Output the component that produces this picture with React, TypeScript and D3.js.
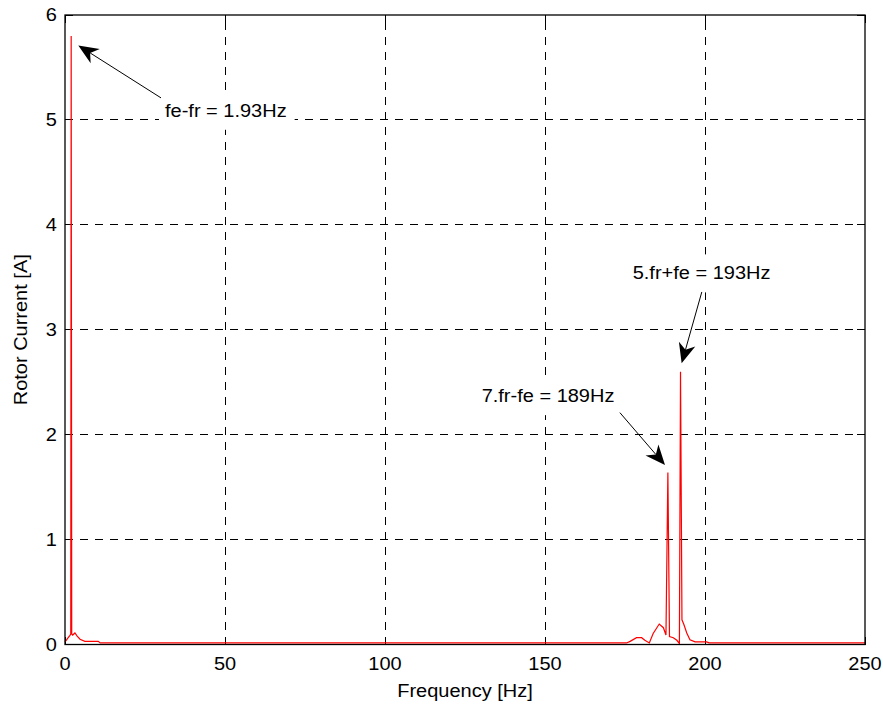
import React, { useEffect, useRef } from 'react';
import * as d3 from 'd3';

const freqHz = [0, 0.5, 1.0, 1.5, 1.8, 1.93, 2.1, 2.4, 3.1, 3.8, 4.7, 6.2, 10.4, 11.0, 175.5, 176.6, 178.6, 180.2, 181.2, 182.6, 183.8, 185.7, 187.0, 187.8, 188.4, 188.9, 190.1, 191.2, 192.0, 192.35, 192.8, 193.4, 194.3, 195.3, 196.9, 200.5, 201.3, 250];
const currentA = [0.025, 0.045, 0.065, 0.085, 0.1, 5.8, 0.1, 0.09, 0.11, 0.08, 0.05, 0.03, 0.03, 0.015, 0.015, 0.03, 0.065, 0.065, 0.04, 0.015, 0.105, 0.195, 0.16, 0.09, 1.64, 0.075, 0.065, 0.04, 0.01, 2.6, 0.235, 0.19, 0.11, 0.045, 0.025, 0.025, 0.015, 0.015];

const xTicks = [0, 50, 100, 150, 200, 250];
const yTicks = [0, 1, 2, 3, 4, 5, 6];
const xLabel = 'Frequency [Hz]';
const yLabel = 'Rotor Current [A]';

const annLabels = ['fe-fr = 1.93Hz', '7.fr-fe = 189Hz', '5.fr+fe = 193Hz'];
const annTextAt = [[31.25, 5.03], [130.2, 2.31], [177.4, 3.48]];
const annTail = [[30, 5.21], [173.4, 2.21], [199.0, 3.36]];
const annTip = [[4.16, 5.71], [187.5, 1.71], [192.7, 2.68]];

const W = 883, H = 705;
const L = 65, R = 865, T = 15, B = 644.5;
const FONT = '"Liberation Sans", Arial, Helvetica, sans-serif';
const SY = 0.88;

export default function App() {
  const ref = useRef<SVGSVGElement>(null);
  useEffect(() => {
    const svg = d3.select(ref.current);
    svg.selectAll('*').remove();
    const x = d3.scaleLinear().domain([0, 250]).range([L, R]);
    const y = d3.scaleLinear().domain([0, 6]).range([B, T]);

    svg.append('rect').attr('x', 0).attr('y', 0).attr('width', W).attr('height', H).attr('fill', '#fff');

    const g = svg.append('g');
    // grid
    xTicks.filter(v => v > 0 && v < 250).forEach(v => {
      g.append('line').attr('x1', x(v)).attr('x2', x(v)).attr('y1', B).attr('y2', T)
        .attr('stroke', '#000').attr('stroke-width', 1).attr('stroke-dasharray', '8,7').attr('shape-rendering', 'crispEdges');
    });
    yTicks.filter(v => v > 0 && v < 6).forEach(v => {
      g.append('line').attr('x1', L).attr('x2', R).attr('y1', y(v)).attr('y2', y(v))
        .attr('stroke', '#000').attr('stroke-width', 1).attr('stroke-dasharray', '8,7').attr('shape-rendering', 'crispEdges');
    });

    // ticks
    xTicks.forEach(v => {
      g.append('line').attr('x1', x(v)).attr('x2', x(v)).attr('y1', B).attr('y2', B - 8).attr('stroke', '#000').attr('shape-rendering', 'crispEdges');
      g.append('line').attr('x1', x(v)).attr('x2', x(v)).attr('y1', T).attr('y2', T + 8).attr('stroke', '#000').attr('shape-rendering', 'crispEdges');
      g.append('text').attr('transform', `translate(${x(v)},670) scale(1,${SY})`)
        .attr('text-anchor', 'middle').attr('font-family', FONT).attr('font-size', 20).attr('fill', '#000').text(String(v));
    });
    yTicks.forEach(v => {
      g.append('line').attr('x1', L).attr('x2', L + 8).attr('y1', y(v)).attr('y2', y(v)).attr('stroke', '#000').attr('shape-rendering', 'crispEdges');
      g.append('line').attr('x1', R).attr('x2', R - 8).attr('y1', y(v)).attr('y2', y(v)).attr('stroke', '#000').attr('shape-rendering', 'crispEdges');
      g.append('text').attr('transform', `translate(57,${y(v) + 6.3}) scale(1,${SY})`)
        .attr('text-anchor', 'end').attr('font-family', FONT).attr('font-size', 20).attr('fill', '#000').text(String(v));
    });

    // data line
    const pts = freqHz.map((f, i) => [f, currentA[i]] as [number, number]);
    const line = d3.line<[number, number]>().x(d => x(d[0])).y(d => y(d[1]));
    g.append('path').attr('d', line(pts)).attr('fill', 'none').attr('stroke', '#ff0000').attr('stroke-width', 1.2);

    // box
    g.append('rect').attr('x', L).attr('y', T).attr('width', R - L).attr('height', B - T)
      .attr('fill', 'none').attr('stroke', '#000').attr('stroke-width', 1.3);

    // axis labels
    g.append('text').attr('transform', `translate(${(L + R) / 2},697) scale(1,${SY})`)
      .attr('text-anchor', 'middle').attr('font-family', FONT).attr('font-size', 20).attr('fill', '#000').text(xLabel);
    g.append('text').attr('transform', `translate(27,${(T + B) / 2}) rotate(-90) scale(1,${SY})`)
      .attr('text-anchor', 'middle').attr('font-family', FONT).attr('font-size', 20).attr('fill', '#000').text(yLabel);

    // annotations
    annLabels.forEach((lab, i) => {
      const tx = x(annTextAt[i][0]), ty = y(annTextAt[i][1]);
      const ag = g.append('g');
      const rect = ag.append('rect').attr('fill', '#fff');
      const t = ag.append('text').attr('transform', `translate(${tx},${ty}) scale(1,${SY})`)
        .attr('font-family', FONT).attr('font-size', 20).attr('fill', '#000').text(lab);
      const w = (t.node() as SVGTextElement).getComputedTextLength();
      rect.attr('x', tx - 6).attr('y', ty - 25).attr('width', w + 14).attr('height', 38);

      const x1 = x(annTail[i][0]), y1 = y(annTail[i][1]);
      const x2 = x(annTip[i][0]), y2 = y(annTip[i][1]);
      const dx = x1 - x2, dy = y1 - y2;
      const len = Math.hypot(dx, dy);
      const ux = dx / len, uy = dy / len;
      const px = -uy, py = ux;
      const hl = 20, hw = 8.5, nl = 14;
      g.append('line').attr('x1', x1).attr('y1', y1).attr('x2', x2 + ux * nl).attr('y2', y2 + uy * nl)
        .attr('stroke', '#000').attr('stroke-width', 1);
      const head = [
        [x2, y2],
        [x2 + ux * hl + px * hw, y2 + uy * hl + py * hw],
        [x2 + ux * nl, y2 + uy * nl],
        [x2 + ux * hl - px * hw, y2 + uy * hl - py * hw],
      ];
      g.append('path').attr('d', 'M' + head.map(p => p.join(',')).join('L') + 'Z').attr('fill', '#000');
    });
  }, []);
  return (
    <svg ref={ref} width={W} height={H} style={{ position: 'absolute', left: 0, top: 0, display: 'block' }} />
  );
}
